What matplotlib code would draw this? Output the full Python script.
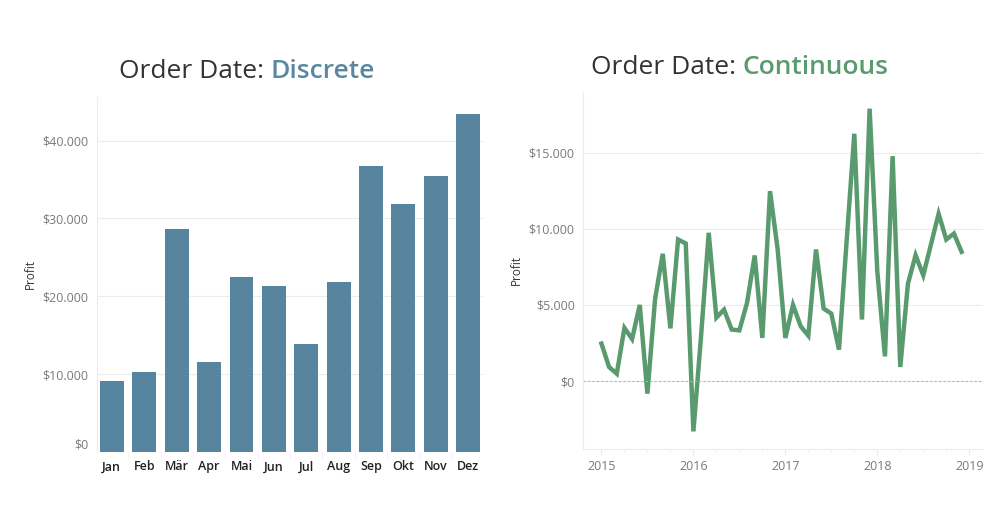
import matplotlib.pyplot as plt
from matplotlib.ticker import FuncFormatter, FixedLocator

# profit by month (all years combined)
months = ["Jan", "Feb", "Mär", "Apr", "Mai", "Jun", "Jul", "Aug", "Sep", "Okt", "Nov", "Dez"]
month_profit = [9100, 10300, 28600, 11550, 22500, 21300, 13900, 21800, 36800, 31800, 35500, 43400]

# profit per month 2015-2018
years = [2015, 2016, 2017, 2018]
profit_2015 = [2460, 920, 480, 3490, 2760, 5000, -830, 5390, 8360, 3460, 9300, 9040]
profit_2016 = [-3310, 2940, 9740, 4170, 4690, 3380, 3330, 5130, 8250, 2830, 12480, 8640]
profit_2017 = [2830, 5000, 3600, 2980, 8640, 4760, 4430, 2060, 9200, 16250, 4040, 17900]
profit_2018 = [7200, 1620, 14780, 920, 6400, 8270, 6950, 8970, 10990, 9300, 9690, 8490]

bar_col = "#57849e"
line_col = "#5a9a6f"
grid_col = "#ececec"
tick_col = "#7a7a7a"
plt.rcParams["font.family"] = ["Open Sans", "DejaVu Sans"]

fig = plt.figure(figsize=(10.03, 5.29), dpi=100)

def dollars(v, pos):
    return "$" + f"{int(v):,}".replace(",", ".")

def clean(ax):
    for s in ["top", "right"]:
        ax.spines[s].set_visible(False)
    ax.spines["left"].set_color(grid_col)
    ax.spines["bottom"].set_color(grid_col)
    ax.yaxis.set_major_formatter(FuncFormatter(dollars))
    ax.tick_params(axis="y", length=0, labelcolor=tick_col, labelsize=9, pad=6)
    ax.grid(axis="y", color=grid_col, linewidth=0.8)
    ax.set_axisbelow(True)
    ax.set_ylabel("Profit", fontsize=8.5, color="#333333", labelpad=4)

# --- discrete (bar) chart
ax1 = fig.add_axes([0.0964, 0.1456, 0.385, 0.671])
x = list(range(len(months)))
ax1.bar(x, month_profit, width=0.74, color=bar_col)
ax1.set_xlim(-0.47, 11.45)
ax1.set_ylim(0, 45600)
ax1.set_yticks([0, 10000, 20000, 30000, 40000])
clean(ax1)
ax1.spines["bottom"].set_visible(False)
ax1.set_xticks(x)
ax1.set_xticklabels(months, fontsize=9, fontweight="semibold", color="#222222")
ax1.tick_params(axis="x", length=0, pad=6)
ax1.xaxis.set_minor_locator(FixedLocator([i - 0.5 for i in range(13)]))
ax1.tick_params(axis="x", which="minor", length=4, color=grid_col)
ax1.get_yticklabels()[0].set_va("bottom")

# --- continuous (line) chart
ax2 = fig.add_axes([0.5813, 0.1512, 0.3988, 0.675])
series = [profit_2015, profit_2016, profit_2017, profit_2018]
xs, ys = [], []
for yr, vals in zip(years, series):
    for m, v in enumerate(vals):
        xs.append(yr + m / 12)
        ys.append(v)
ax2.plot(xs, ys, color=line_col, linewidth=3.2, solid_joinstyle="miter")
ax2.axhline(0, color="#b5b5b5", linewidth=0.8, linestyle=(0, (2, 2)))
ax2.set_xlim(2014.8, 2019.15)
ax2.set_ylim(-4470, 19000)
ax2.set_yticks([0, 5000, 10000, 15000])
clean(ax2)
ax2.set_xticks([2015, 2016, 2017, 2018, 2019])
ax2.set_xticklabels(["2015", "2016", "2017", "2018", "2019"])
ax2.tick_params(axis="x", length=4, color=grid_col, labelcolor=tick_col, labelsize=9, pad=4)
ax2.xaxis.set_minor_locator(FixedLocator([2015 + q / 4 for q in range(17)]))
ax2.tick_params(axis="x", which="minor", length=2, color=grid_col)

# --- titles with coloured last word
t1 = fig.text(0.1186, 1 - 78 / 529, "Order Date: ", fontsize=19, color="#333333", va="baseline")
ax1.annotate("Discrete", xy=(1, 0), xycoords=t1, fontsize=19, color="#5a87a0",
             fontweight="semibold", va="bottom", ha="left")
t2 = fig.text(0.589, 1 - 74 / 529, "Order Date: ", fontsize=19, color="#333333", va="baseline")
ax2.annotate("Continuous", xy=(1, 0), xycoords=t2, fontsize=19, color="#5a9a6e",
             fontweight="semibold", va="bottom", ha="left")

fig.savefig("out.png", dpi=100)
